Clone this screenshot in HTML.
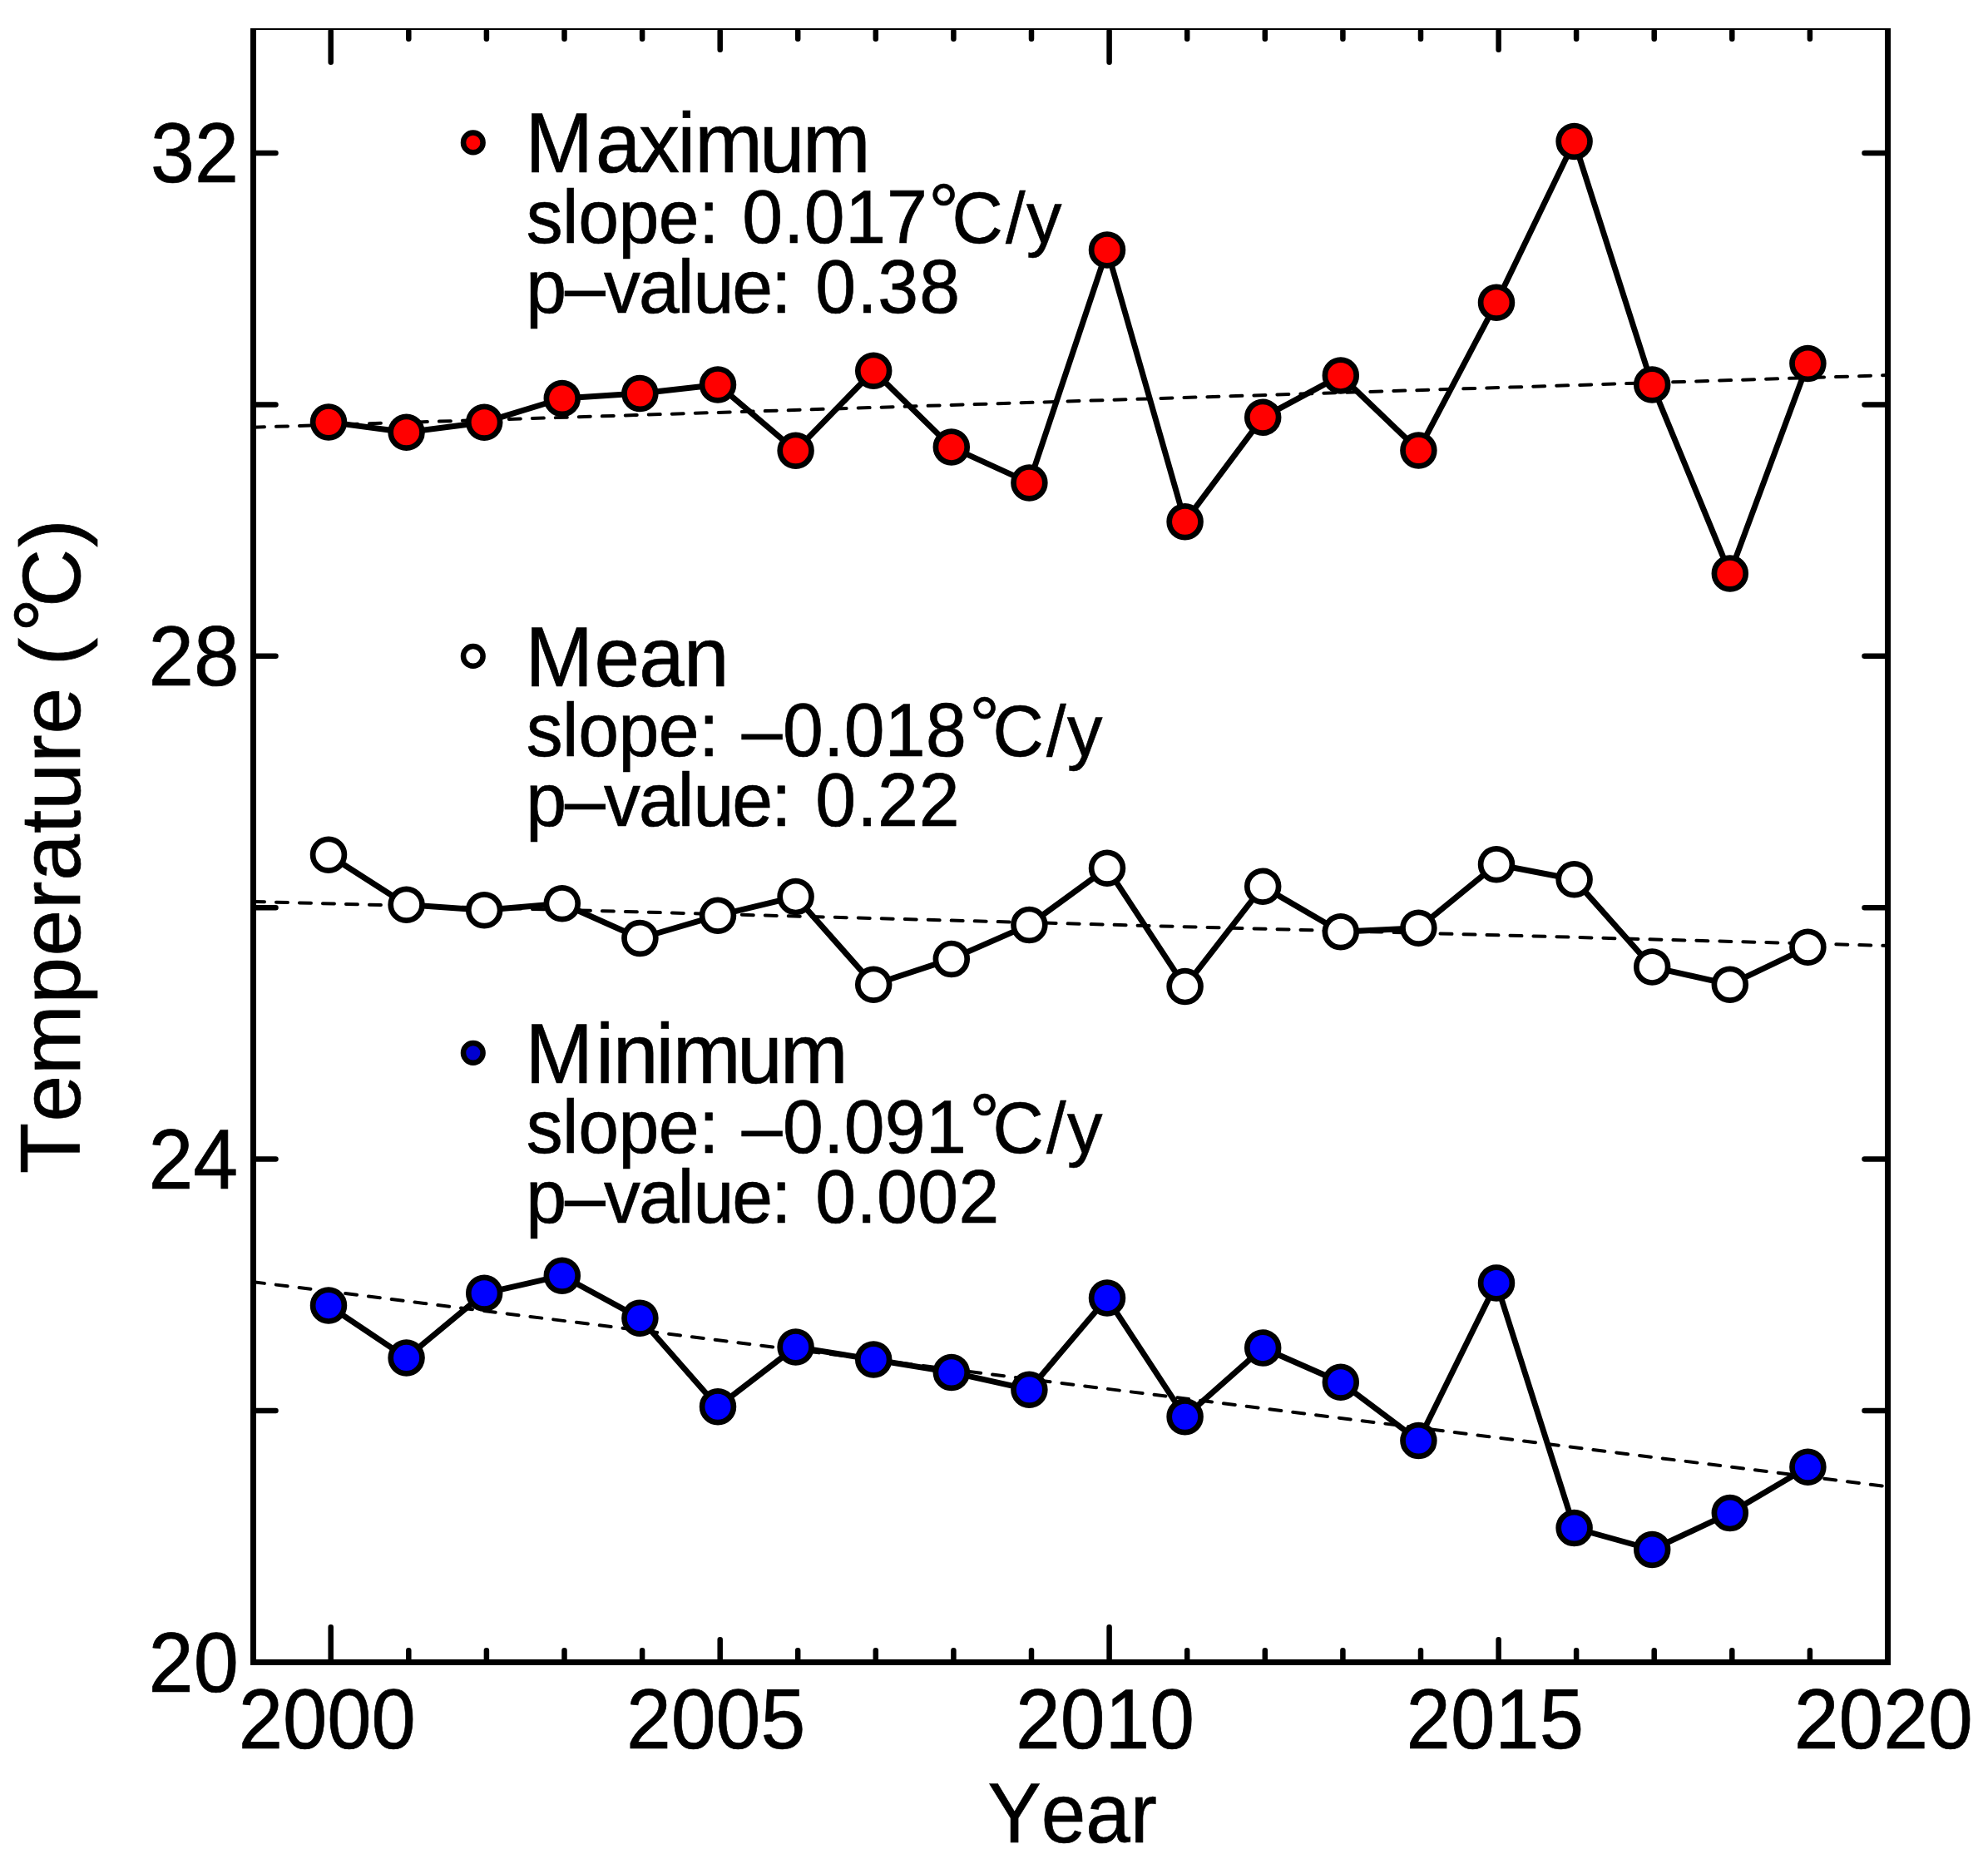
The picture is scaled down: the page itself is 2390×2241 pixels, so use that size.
<!DOCTYPE html>
<html lang="en"><head><meta charset="utf-8"><title>Temperature trends</title>
<style>
html,body{margin:0;padding:0;background:#fff;}
body{width:2390px;height:2241px;overflow:hidden;}
svg{display:block;}
text{font-family:"Liberation Sans", Arial, Helvetica, sans-serif;fill:#000;stroke:#000;stroke-width:0.7px;white-space:pre;font-kerning:none;}
</style></head><body>
<svg width="2390" height="2241" viewBox="0 0 2390 2241">
<rect width="2390" height="2241" fill="#fff"/>
<line x1="304.5" y1="513.7" x2="2269.5" y2="451.1" stroke="#000" stroke-width="4" stroke-linecap="round" stroke-dasharray="14 14" fill="none" stroke-dashoffset="0.5"/>
<line x1="304.5" y1="1083.9" x2="2269.5" y2="1137.0" stroke="#000" stroke-width="4" stroke-linecap="round" stroke-dasharray="14 14" fill="none" stroke-dashoffset="0.5"/>
<line x1="304.5" y1="1541.2" x2="2269.5" y2="1787.3" stroke="#000" stroke-width="4" stroke-linecap="round" stroke-dasharray="14 14" fill="none" stroke-dashoffset="0.5"/>
<polyline points="395.0,507.4 488.6,519.7 582.2,507.7 675.8,479.0 769.4,473.0 863.0,462.4 956.6,541.8 1050.2,445.8 1143.8,537.6 1237.4,580.4 1331.0,300.4 1424.6,627.2 1518.2,501.8 1611.8,451.6 1705.4,541.4 1799.0,363.8 1892.6,169.9 1986.2,462.5 2079.8,689.4 2173.4,437.0" fill="none" stroke="#000" stroke-width="7.0" stroke-linejoin="round"/>
<g fill="#ff0000" stroke="#000" stroke-width="6.7">
<circle cx="395.0" cy="507.4" r="18.9"/>
<circle cx="488.6" cy="519.7" r="18.9"/>
<circle cx="582.2" cy="507.7" r="18.9"/>
<circle cx="675.8" cy="479.0" r="18.9"/>
<circle cx="769.4" cy="473.0" r="18.9"/>
<circle cx="863.0" cy="462.4" r="18.9"/>
<circle cx="956.6" cy="541.8" r="18.9"/>
<circle cx="1050.2" cy="445.8" r="18.9"/>
<circle cx="1143.8" cy="537.6" r="18.9"/>
<circle cx="1237.4" cy="580.4" r="18.9"/>
<circle cx="1331.0" cy="300.4" r="18.9"/>
<circle cx="1424.6" cy="627.2" r="18.9"/>
<circle cx="1518.2" cy="501.8" r="18.9"/>
<circle cx="1611.8" cy="451.6" r="18.9"/>
<circle cx="1705.4" cy="541.4" r="18.9"/>
<circle cx="1799.0" cy="363.8" r="18.9"/>
<circle cx="1892.6" cy="169.9" r="18.9"/>
<circle cx="1986.2" cy="462.5" r="18.9"/>
<circle cx="2079.8" cy="689.4" r="18.9"/>
<circle cx="2173.4" cy="437.0" r="18.9"/>
</g>
<polyline points="395.0,1027.7 488.6,1087.7 582.2,1094.2 675.8,1086.3 769.4,1128.0 863.0,1100.7 956.6,1078.1 1050.2,1183.7 1143.8,1152.9 1237.4,1111.9 1331.0,1043.7 1424.6,1186.1 1518.2,1065.7 1611.8,1120.3 1705.4,1115.8 1799.0,1039.2 1892.6,1057.3 1986.2,1162.6 2079.8,1183.7 2173.4,1138.8" fill="none" stroke="#000" stroke-width="7.0" stroke-linejoin="round"/>
<g fill="#ffffff" stroke="#000" stroke-width="6.7">
<circle cx="395.0" cy="1027.7" r="18.9"/>
<circle cx="488.6" cy="1087.7" r="18.9"/>
<circle cx="582.2" cy="1094.2" r="18.9"/>
<circle cx="675.8" cy="1086.3" r="18.9"/>
<circle cx="769.4" cy="1128.0" r="18.9"/>
<circle cx="863.0" cy="1100.7" r="18.9"/>
<circle cx="956.6" cy="1078.1" r="18.9"/>
<circle cx="1050.2" cy="1183.7" r="18.9"/>
<circle cx="1143.8" cy="1152.9" r="18.9"/>
<circle cx="1237.4" cy="1111.9" r="18.9"/>
<circle cx="1331.0" cy="1043.7" r="18.9"/>
<circle cx="1424.6" cy="1186.1" r="18.9"/>
<circle cx="1518.2" cy="1065.7" r="18.9"/>
<circle cx="1611.8" cy="1120.3" r="18.9"/>
<circle cx="1705.4" cy="1115.8" r="18.9"/>
<circle cx="1799.0" cy="1039.2" r="18.9"/>
<circle cx="1892.6" cy="1057.3" r="18.9"/>
<circle cx="1986.2" cy="1162.6" r="18.9"/>
<circle cx="2079.8" cy="1183.7" r="18.9"/>
<circle cx="2173.4" cy="1138.8" r="18.9"/>
</g>
<polyline points="395.0,1569.6 488.6,1632.4 582.2,1554.8 675.8,1533.7 769.4,1584.7 863.0,1691.3 956.6,1619.4 1050.2,1634.5 1143.8,1649.9 1237.4,1670.7 1331.0,1560.6 1424.6,1703.3 1518.2,1620.6 1611.8,1661.7 1705.4,1732.0 1799.0,1542.5 1892.6,1837.0 1986.2,1863.0 2079.8,1819.1 2173.4,1763.7" fill="none" stroke="#000" stroke-width="7.0" stroke-linejoin="round"/>
<g fill="#0000ff" stroke="#000" stroke-width="6.7">
<circle cx="395.0" cy="1569.6" r="18.9"/>
<circle cx="488.6" cy="1632.4" r="18.9"/>
<circle cx="582.2" cy="1554.8" r="18.9"/>
<circle cx="675.8" cy="1533.7" r="18.9"/>
<circle cx="769.4" cy="1584.7" r="18.9"/>
<circle cx="863.0" cy="1691.3" r="18.9"/>
<circle cx="956.6" cy="1619.4" r="18.9"/>
<circle cx="1050.2" cy="1634.5" r="18.9"/>
<circle cx="1143.8" cy="1649.9" r="18.9"/>
<circle cx="1237.4" cy="1670.7" r="18.9"/>
<circle cx="1331.0" cy="1560.6" r="18.9"/>
<circle cx="1424.6" cy="1703.3" r="18.9"/>
<circle cx="1518.2" cy="1620.6" r="18.9"/>
<circle cx="1611.8" cy="1661.7" r="18.9"/>
<circle cx="1705.4" cy="1732.0" r="18.9"/>
<circle cx="1799.0" cy="1542.5" r="18.9"/>
<circle cx="1892.6" cy="1837.0" r="18.9"/>
<circle cx="1986.2" cy="1863.0" r="18.9"/>
<circle cx="2079.8" cy="1819.1" r="18.9"/>
<circle cx="2173.4" cy="1763.7" r="18.9"/>
</g>
<g stroke="#000" stroke-width="6.5" stroke-linecap="round" fill="none">
<path d="M397.7 1998.5V1956.2M397.7 37.25V74.8"/>
<path d="M491.3 1998.5V1984.2M491.3 37.25V46.8"/>
<path d="M584.9 1998.5V1984.2M584.9 37.25V46.8"/>
<path d="M678.5 1998.5V1984.2M678.5 37.25V46.8"/>
<path d="M772.1 1998.5V1984.2M772.1 37.25V46.8"/>
<path d="M865.7 1998.5V1971.2M865.7 37.25V59.8"/>
<path d="M959.2 1998.5V1984.2M959.2 37.25V46.8"/>
<path d="M1052.8 1998.5V1984.2M1052.8 37.25V46.8"/>
<path d="M1146.4 1998.5V1984.2M1146.4 37.25V46.8"/>
<path d="M1240.0 1998.5V1984.2M1240.0 37.25V46.8"/>
<path d="M1333.6 1998.5V1956.2M1333.6 37.25V74.8"/>
<path d="M1427.2 1998.5V1984.2M1427.2 37.25V46.8"/>
<path d="M1520.8 1998.5V1984.2M1520.8 37.25V46.8"/>
<path d="M1614.4 1998.5V1984.2M1614.4 37.25V46.8"/>
<path d="M1708.0 1998.5V1984.2M1708.0 37.25V46.8"/>
<path d="M1801.6 1998.5V1971.2M1801.6 37.25V59.8"/>
<path d="M1895.1 1998.5V1984.2M1895.1 37.25V46.8"/>
<path d="M1988.7 1998.5V1984.2M1988.7 37.25V46.8"/>
<path d="M2082.3 1998.5V1984.2M2082.3 37.25V46.8"/>
<path d="M2175.9 1998.5V1984.2M2175.9 37.25V46.8"/>
<path d="M304.5 1696.0H331.5M2269.5 1696.0H2241.5"/>
<path d="M304.5 1393.6H331.5M2269.5 1393.6H2241.5"/>
<path d="M304.5 1091.2H331.5M2269.5 1091.2H2241.5"/>
<path d="M304.5 788.8H331.5M2269.5 788.8H2241.5"/>
<path d="M304.5 486.4H331.5M2269.5 486.4H2241.5"/>
<path d="M304.5 184.0H331.5M2269.5 184.0H2241.5"/>
</g>
<path d="M304.5 34V1998.5H2269.5V34" fill="none" stroke="#000" stroke-width="7" stroke-linejoin="miter"/>
<rect x="301.0" y="34" width="1972.0" height="2" fill="#000"/>
<text transform="translate(181.07,219.30) scale(0.9335,1)" font-size="102">32</text>
<text transform="translate(178.57,824.10) scale(0.9616,1)" font-size="102">28</text>
<text transform="translate(178.43,1428.90) scale(0.9484,1)" font-size="102">24</text>
<text transform="translate(178.60,2033.70) scale(0.9555,1)" font-size="102">20</text>
<text transform="translate(286.68,2101.80) scale(0.9394,1)" font-size="102">2000</text>
<text transform="translate(752.93,2101.80) scale(0.9490,1)" font-size="102">2005</text>
<text transform="translate(1220.94,2101.80) scale(0.9477,1)" font-size="102">2010</text>
<text transform="translate(1690.57,2101.80) scale(0.9407,1)" font-size="102">2015</text>
<text transform="translate(2156.63,2101.80) scale(0.9486,1)" font-size="102">2020</text>
<text transform="translate(1187.38,2214.90) scale(0.9446,1)" font-size="102">Year</text>
<g transform="translate(96.2,1409.0) rotate(-90)">
<text transform="translate(0.00,0.00) scale(0.9850,1)" font-size="102"><tspan x="-2.29 61.13 118.87 205.35 263.09 320.83 355.40 413.14 441.99 499.73 534.30">Temperature</tspan><tspan x="589.58 617.92"> (</tspan><tspan x="658.89" font-size="104.2" dy="-6.44">°</tspan><tspan x="689.58" font-size="98" dy="5.94">C</tspan><tspan x="762.63" dy="0.50">)</tspan></text>
</g>
<circle cx="568.8" cy="171.4" r="11.8" fill="#ff0000" stroke="#000" stroke-width="6.5"/>
<text transform="translate(0.00,207.00) scale(0.9600,1)" font-size="102"><tspan x="657.93">M</tspan><tspan x="745.88 799.92 848.51 870.10 951.05 1005.09">aximum</tspan></text>
<text transform="translate(0.00,291.80) scale(0.9750,1)" font-size="90"><tspan x="648.98 693.42 713.17 762.60 812.04 861.47">slope:</tspan><tspan x="890.25 915.25 966.11 991.52 1042.38 1093.24"> 0.017</tspan><tspan x="1144.88" font-size="94.2" dy="-5.03">°</tspan><tspan x="1173.84 1240.10 1265.59" font-size="87" dy="5.03">C/y</tspan></text>
<text transform="translate(0.00,375.80) scale(0.9750,1)" font-size="90"><tspan x="648.56 696.53 744.50 787.63 835.60 854.76 902.73 950.70">p–value:</tspan><tspan x="980.51 1005.51 1056.73 1082.32 1133.55"> 0.38</tspan></text>
<circle cx="568.8" cy="788.9" r="11.8" fill="#ffffff" stroke="#000" stroke-width="6.5"/>
<text transform="translate(0.00,825.00) scale(0.9600,1)" font-size="102"><tspan x="657.93">M</tspan><tspan x="744.31 800.33 856.35">ean</tspan></text>
<text transform="translate(0.00,908.80) scale(0.9750,1)" font-size="90"><tspan x="648.98 693.42 713.17 762.60 812.04 861.47">slope:</tspan><tspan x="889.56 914.56 965.01 1015.46 1040.66 1091.10 1141.55"> –0.018</tspan><tspan x="1195.14" font-size="94.2" dy="-5.03">°</tspan><tspan x="1224.09 1290.36 1315.85" font-size="87" dy="5.03">C/y</tspan></text>
<text transform="translate(0.00,993.00) scale(0.9750,1)" font-size="90"><tspan x="648.56 696.53 744.50 787.63 835.60 854.76 902.73 950.70">p–value:</tspan><tspan x="980.51 1005.51 1056.57 1082.08 1133.14"> 0.22</tspan></text>
<circle cx="568.8" cy="1265.9" r="11.8" fill="#0000d0" stroke="#000" stroke-width="6.5"/>
<text transform="translate(0.00,1301.80) scale(0.9600,1)" font-size="102"><tspan x="657.93">M</tspan><tspan x="746.20 767.65 821.36 842.81 923.26 976.97">inimum</tspan></text>
<text transform="translate(0.00,1385.90) scale(0.9750,1)" font-size="90"><tspan x="648.98 693.42 713.17 762.60 812.04 861.47">slope:</tspan><tspan x="889.56 914.56 965.01 1015.46 1040.66 1091.10 1141.55"> –0.091</tspan><tspan x="1195.14" font-size="94.2" dy="-5.03">°</tspan><tspan x="1224.09 1290.36 1315.85" font-size="87" dy="5.03">C/y</tspan></text>
<text transform="translate(0.00,1470.20) scale(0.9750,1)" font-size="90"><tspan x="648.56 696.53 744.50 787.63 835.60 854.76 902.73 950.70">p–value:</tspan><tspan x="980.51 1005.51 1055.93 1081.12 1131.54 1181.96"> 0.002</tspan></text>
</svg></body></html>
